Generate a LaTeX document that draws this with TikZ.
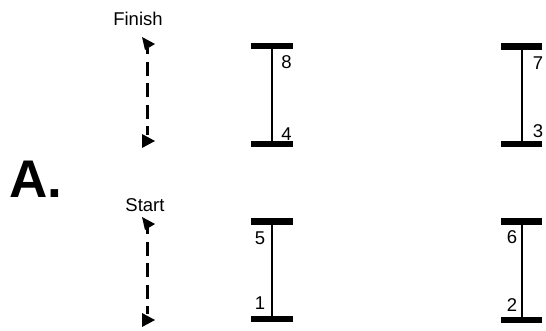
\documentclass[tikz,border=0pt]{standalone}
\usepackage{fontspec}
\setmainfont{Liberation Sans}
\begin{document}
\begin{tikzpicture}[x=1pt,y=-1pt,
  bar/.style={line width=6.5pt},
  web/.style={line width=2pt},
  num/.style={font=\fontsize{18.5}{18.5}\selectfont, inner sep=0pt},
  lbl/.style={font=\fontsize{18.5}{18.5}\selectfont, inner sep=0pt},
  dir/.style={line width=2.7pt, dash pattern=on 14pt off 7.5pt, dash phase=7.8pt},
  head/.style={fill=black, draw=none}]
\useasboundingbox (0,0) rectangle (546,331);

% beams: name, x-left, x-right, x-web, y-top, y-bottom
\foreach \n/\xl/\xr/\xw/\yt/\yb in {b1/251/293/272/46/144, b2/501/542/522/46.5/144, b3/251/293/272/221.5/319, b4/501/542/522/221.5/320}{
  \coordinate (\n tl) at (\xl,\yt);
  \coordinate (\n tr) at (\xr,\yt);
  \coordinate (\n bl) at (\xl,\yb);
  \coordinate (\n br) at (\xr,\yb);
  \coordinate (\n t) at (\xw,\yt);
  \coordinate (\n b) at (\xw,\yb);
  \draw[bar] (\n tl) -- (\n tr);
  \draw[bar] (\n bl) -- (\n br);
  \draw[web] (\n t) -- (\n b);
}

\node[num] (n8) at (286.5,62) {8};
\node[num] (n4) at (286.5,134) {4};
\node[num] (n7) at (538,63) {7};
\node[num] (n3) at (538,131) {3};
\node[num] (n5) at (260,238) {5};
\node[num] (n1) at (260,303) {1};
\node[num] (n6) at (512,237) {6};
\node[num] (n2) at (512,305) {2};

\node[lbl] (finish) at (138,19) {Finish};
\node[lbl] (start) at (145,205.5) {Start};

\node[font=\fontsize{53}{53}\selectfont\bfseries, inner sep=0pt, anchor=base west] (A) at (9,197) {A.};

% direction arrows
\coordinate (f1) at (147.5,48);
\coordinate (f2) at (147.5,135);
\draw[dir] (f1) -- (f2);
\fill[head] (142,37) -- (155,44) -- (145,50) -- cycle;
\fill[head] (142,134) -- (155,141) -- (142,148) -- cycle;

\coordinate (s1) at (147.5,228);
\coordinate (s2) at (147.5,314);
\draw[dir] (s1) -- (s2);
\fill[head] (142,217) -- (155,224) -- (145,230) -- cycle;
\fill[head] (142,313) -- (155,320) -- (142,327) -- cycle;
\end{tikzpicture}
\end{document}
